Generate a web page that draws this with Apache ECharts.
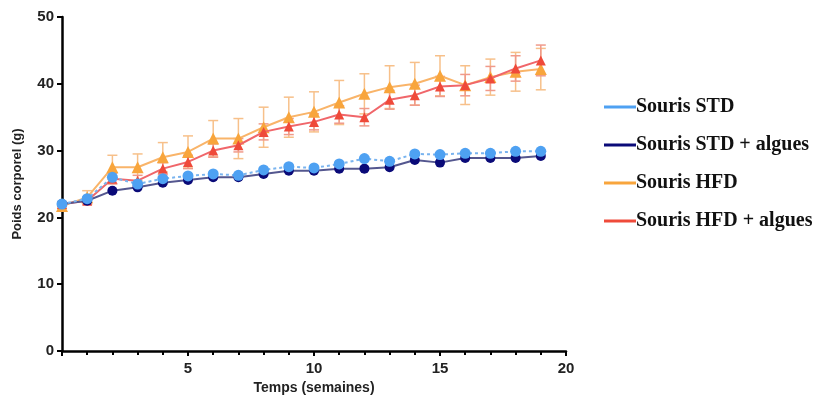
<!DOCTYPE html>
<html><head><meta charset="utf-8">
<script src="https://cdn.jsdelivr.net/npm/echarts@6/dist/echarts.min.js"></script>
<style>html,body{margin:0;padding:0;background:#fff}#c{width:815px;height:405px}</style>
</head><body><div id="c"></div>
<script>
const weeks = [0,1,2,3,4,5,6,7,8,9,10,11,12,13,14,15,16,17,18,19];
const std = [22,22.8,26,25,25.8,26.2,26.5,26.3,27.1,27.6,27.4,28,28.8,28.4,29.5,29.4,29.6,29.6,29.9,29.9];
const stdAlg = [22,22.5,24,24.5,25.2,25.6,26,26,26.5,27,27,27.3,27.3,27.5,28.6,28.2,28.9,28.9,28.9,29.2];
const hfd = [21.7,23,27.5,27.5,29,29.8,31.8,31.8,33.5,35,35.8,37.2,38.5,39.5,40,41.2,39.8,41,41.8,42.2];
const hfdSd = [0.3,1,1.8,2,2.2,2.4,2.7,3,3,3,3,3.3,3,3.2,3.2,3,2.9,2.7,2.9,3.1];
const hfdAlg = [22,22.5,25.8,25.5,27.3,28.3,30,30.8,32.8,33.6,34.3,35.4,35,37.6,38.3,39.6,39.8,40.8,42.3,43.5];
const hfdAlgSd = [0.3,0.5,0.8,0.8,0.9,1,1,1,1.2,1.2,1.2,1.3,1.3,1.4,1.5,1.5,1.6,1.8,1.9,2.3];
const names = ['Souris STD','Souris STD + algues','Souris HFD','Souris HFD + algues'];

const pair = (a) => weeks.map((w,i)=>[w,a[i]]);
function errSeries(vals, sds, color){
  return {
    type:'custom', silent:true, z:1,
    renderItem(params, api){
      const x = api.value(0), y = api.value(1), s = api.value(2);
      const top = api.coord([x, y+s]), bot = api.coord([x, y-s]);
      const w = 5;
      return {type:'group', children:[
        {type:'line', shape:{x1:top[0],y1:top[1],x2:bot[0],y2:bot[1]}, style:{stroke:color,lineWidth:1.5}},
        {type:'line', shape:{x1:top[0]-w,y1:top[1],x2:top[0]+w,y2:top[1]}, style:{stroke:color,lineWidth:1.5}},
        {type:'line', shape:{x1:bot[0]-w,y1:bot[1],x2:bot[0]+w,y2:bot[1]}, style:{stroke:color,lineWidth:1.5}}
      ]};
    },
    data: weeks.map((w,i)=>[w, vals[i], sds[i]])
  };
}

const chart = echarts.init(document.getElementById('c'));
chart.setOption({
  animation:false,
  grid:{left:62,right:249,top:17,bottom:54},
  legend:{
    orient:'vertical', left:599, top:92, itemGap:18, itemWidth:32, itemHeight:3,
    icon:'rect', selectedMode:false,
    textStyle:{fontFamily:'Liberation Serif',fontWeight:'bold',fontSize:20,color:'#111',padding:[0,0,0,-5]},
    data:names
  },
  xAxis:{
    type:'value', min:0, max:20, interval:5,
    name:'Temps (semaines)', nameLocation:'middle', nameGap:30,
    nameTextStyle:{fontFamily:'Liberation Sans',fontWeight:'bold',fontSize:14,color:'#222'},
    axisLine:{lineStyle:{color:'#000',width:2.5}},
    axisTick:{lineStyle:{color:'#000',width:2},length:5},
    minorTick:{show:true,splitNumber:5,length:4,lineStyle:{color:'#000',width:2}},
    splitLine:{show:false},
    axisLabel:{fontFamily:'Liberation Sans',fontWeight:'bold',fontSize:15,color:'#222',margin:10,
      formatter:v=>v===0?'':String(v)}
  },
  yAxis:{
    type:'value', min:0, max:50, interval:10,
    name:'Poids corporel (g)', nameLocation:'middle', nameGap:38,
    nameTextStyle:{fontFamily:'Liberation Sans',fontWeight:'bold',fontSize:13,color:'#222'},
    axisLine:{show:true,lineStyle:{color:'#000',width:2.5}},
    axisTick:{show:true,lineStyle:{color:'#000',width:2},length:5},
    splitLine:{show:false},
    axisLabel:{fontFamily:'Liberation Sans',fontWeight:'bold',fontSize:15,color:'#222',margin:8}
  },
  series:[
    errSeries(hfd, hfdSd, '#f7c08a'),
    errSeries(hfdAlg, hfdAlgSd, '#f09a8a'),
    {name:names[2], type:'line', data:pair(hfd), symbol:'triangle', symbolSize:12, z:3,
      itemStyle:{color:'#f8a53c'}, lineStyle:{color:'#f9b469',width:2}},
    {name:names[3], type:'line', data:pair(hfdAlg), symbol:'triangle', symbolSize:10, z:4,
      itemStyle:{color:'#ef4a3a'}, lineStyle:{color:'#f0666a',width:2}},
    {name:names[1], type:'line', data:pair(stdAlg), symbol:'circle', symbolSize:10, z:5,
      itemStyle:{color:'#0a0a78'}, lineStyle:{color:'#54578f',width:2}},
    {name:names[0], type:'line', data:pair(std), symbol:'circle', symbolSize:11, z:6,
      itemStyle:{color:'#4ea1f2'}, lineStyle:{color:'#7ab4ef',width:2,type:[3,3]}}
  ]
});
</script></body></html>
